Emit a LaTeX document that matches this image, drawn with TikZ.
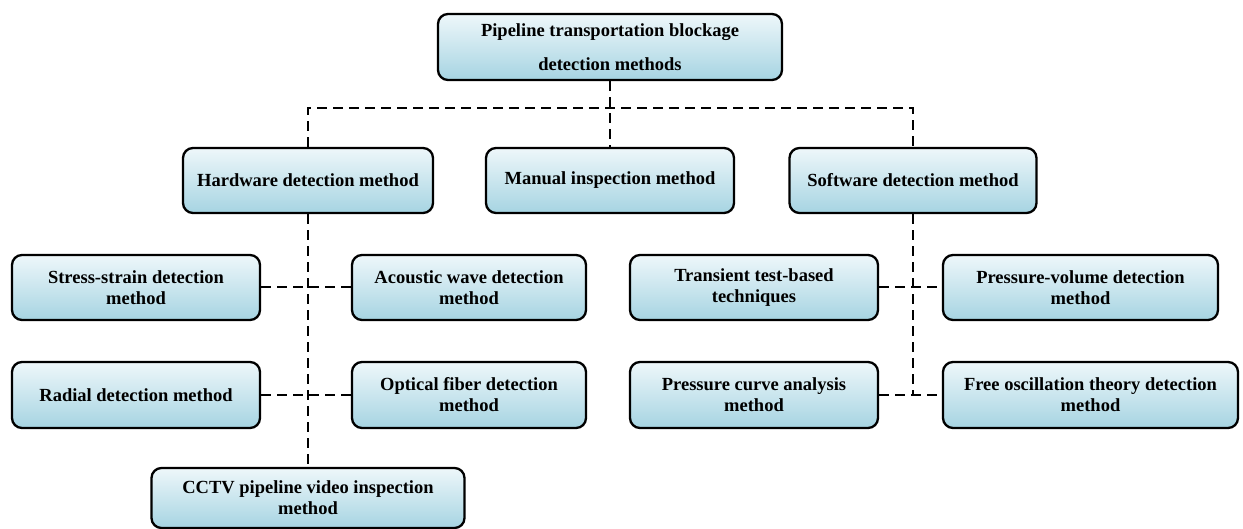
\documentclass[tikz,border=0pt]{standalone}
\usepackage{fontspec}
\setmainfont{Liberation Serif}
\begin{document}
\begin{tikzpicture}[x=1pt,y=-1pt,
  box/.style={draw=black, line width=2.3pt, rounded corners=10pt, shading=axis,
    top color=boxtop, bottom color=boxbot, align=center, inner sep=0pt,
    font=\fontsize{18.5}{21}\selectfont\bfseries},
  link/.style={draw=black, line width=2pt, dash pattern=on 10pt off 6pt}]
\definecolor{boxtop}{HTML}{EEF7FA}
\definecolor{boxbot}{HTML}{A6D4E2}
\useasboundingbox (0,0) rectangle (1243,529);
% boxes: minimum width/height from pixel extents
\node[box, minimum width=344pt, minimum height=66pt] (top) at (610,47)
  {Pipeline transportation blockage\\[13pt]detection methods};
\node[box, minimum width=250pt, minimum height=65pt] (hw) at (308,180.5) {Hardware detection method};
\node[box, minimum width=248pt, minimum height=65pt] (man) at (610,180.5) {Manual inspection method};
\node[box, minimum width=247pt, minimum height=65pt] (sw) at (913,180.5) {Software detection method};
\node[box, minimum width=248pt, minimum height=65pt] (ss) at (136,287.5) {Stress-strain detection\\method};
\node[box, minimum width=234pt, minimum height=65pt] (ac) at (469,287.5) {Acoustic wave detection\\method};
\node[box, minimum width=248pt, minimum height=66pt] (rd) at (136,395) {Radial detection method};
\node[box, minimum width=234pt, minimum height=66pt] (of) at (469,395) {Optical fiber detection\\method};
\node[box, minimum width=248pt, minimum height=65pt] (tr) at (754,287.5) {Transient test-based\\techniques};
\node[box, minimum width=275pt, minimum height=65pt] (pv) at (1080.5,287.5) {Pressure-volume detection\\method};
\node[box, minimum width=248pt, minimum height=66pt] (pc) at (754,395) {Pressure curve analysis\\method};
\node[box, minimum width=295pt, minimum height=66pt] (fo) at (1090.5,395) {Free oscillation theory detection\\method};
\node[box, minimum width=313pt, minimum height=60pt] (cc) at (308,498) {CCTV pipeline video inspection\\method};
% bus
\coordinate (busL) at (308,108);
\coordinate (busR) at (913,108);
\coordinate (swEnd) at (913,395);
% connectors
\draw[link] (top.south) -- (man.north);
\draw[link] (hw.north) -- (busL) -- (busR) -- (sw.north);
\draw[link] (hw.south) -- (hw.south |- cc.north);
\draw[link] (ss.east) -- (ac.west);
\draw[link] (rd.east) -- (of.west);
\draw[link] (sw.south) -- (swEnd);
\draw[link] (tr.east) -- (pv.west);
\draw[link] (pc.east) -- (fo.west);
\end{tikzpicture}
\end{document}
